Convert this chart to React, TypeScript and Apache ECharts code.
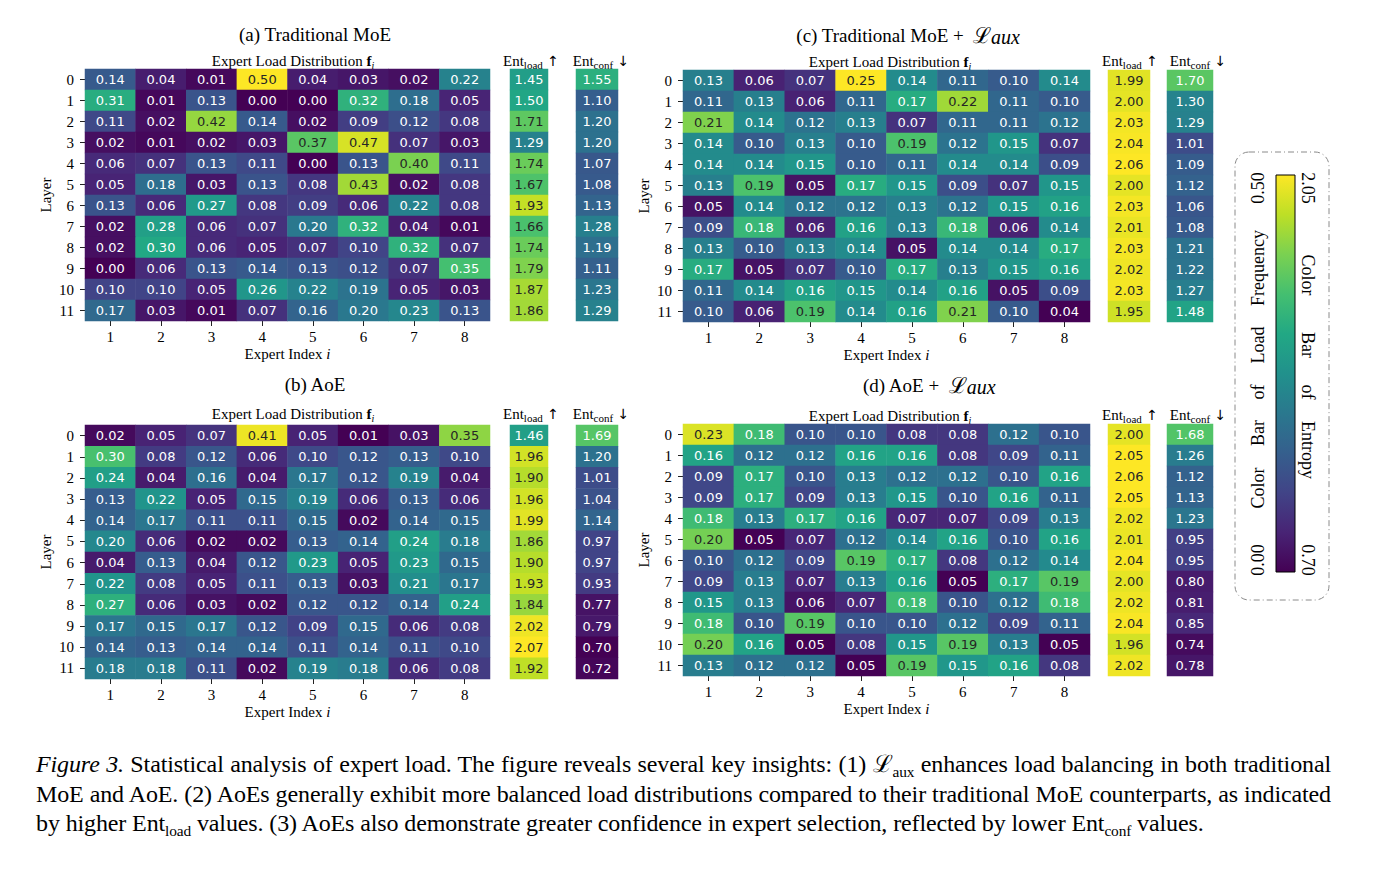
import React, { useEffect, useRef } from "react";
import * as echarts from "echarts";

const SERIF = "'Liberation Serif', 'Times New Roman', serif";
const SANS = "'DejaVu Sans', sans-serif";
const DARK = "#262626";

const VIRIDIS = [
  "#440154", "#482475", "#414487", "#355f8d", "#2a788e", "#21918c",
  "#22a884", "#44bf70", "#7ad151", "#bddf26", "#fde725",
];

const expertIndex = ["1", "2", "3", "4", "5", "6", "7", "8"];
const layerIndex = ["0", "1", "2", "3", "4", "5", "6", "7", "8", "9", "10", "11"];

// (a) Traditional MoE
const loadA = [
  [0.14, 0.04, 0.01, 0.50, 0.04, 0.03, 0.02, 0.22],
  [0.31, 0.01, 0.13, 0.00, 0.00, 0.32, 0.18, 0.05],
  [0.11, 0.02, 0.42, 0.14, 0.02, 0.09, 0.12, 0.08],
  [0.02, 0.01, 0.02, 0.03, 0.37, 0.47, 0.07, 0.03],
  [0.06, 0.07, 0.13, 0.11, 0.00, 0.13, 0.40, 0.11],
  [0.05, 0.18, 0.03, 0.13, 0.08, 0.43, 0.02, 0.08],
  [0.13, 0.06, 0.27, 0.08, 0.09, 0.06, 0.22, 0.08],
  [0.02, 0.28, 0.06, 0.07, 0.20, 0.32, 0.04, 0.01],
  [0.02, 0.30, 0.06, 0.05, 0.07, 0.10, 0.32, 0.07],
  [0.00, 0.06, 0.13, 0.14, 0.13, 0.12, 0.07, 0.35],
  [0.10, 0.10, 0.05, 0.26, 0.22, 0.19, 0.05, 0.03],
  [0.17, 0.03, 0.01, 0.07, 0.16, 0.20, 0.23, 0.13],
];
const entLoadA = [1.45, 1.50, 1.71, 1.29, 1.74, 1.67, 1.93, 1.66, 1.74, 1.79, 1.87, 1.86];
const entConfA = [1.55, 1.10, 1.20, 1.20, 1.07, 1.08, 1.13, 1.28, 1.19, 1.11, 1.23, 1.29];

// (c) Traditional MoE + L_aux
const loadC = [
  [0.13, 0.06, 0.07, 0.25, 0.14, 0.11, 0.10, 0.14],
  [0.11, 0.13, 0.06, 0.11, 0.17, 0.22, 0.11, 0.10],
  [0.21, 0.14, 0.12, 0.13, 0.07, 0.11, 0.11, 0.12],
  [0.14, 0.10, 0.13, 0.10, 0.19, 0.12, 0.15, 0.07],
  [0.14, 0.14, 0.15, 0.10, 0.11, 0.14, 0.14, 0.09],
  [0.13, 0.19, 0.05, 0.17, 0.15, 0.09, 0.07, 0.15],
  [0.05, 0.14, 0.12, 0.12, 0.13, 0.12, 0.15, 0.16],
  [0.09, 0.18, 0.06, 0.16, 0.13, 0.18, 0.06, 0.14],
  [0.13, 0.10, 0.13, 0.14, 0.05, 0.14, 0.14, 0.17],
  [0.17, 0.05, 0.07, 0.10, 0.17, 0.13, 0.15, 0.16],
  [0.11, 0.14, 0.16, 0.15, 0.14, 0.16, 0.05, 0.09],
  [0.10, 0.06, 0.19, 0.14, 0.16, 0.21, 0.10, 0.04],
];
const entLoadC = [1.99, 2.00, 2.03, 2.04, 2.06, 2.00, 2.03, 2.01, 2.03, 2.02, 2.03, 1.95];
const entConfC = [1.70, 1.30, 1.29, 1.01, 1.09, 1.12, 1.06, 1.08, 1.21, 1.22, 1.27, 1.48];

// (b) AoE
const loadB = [
  [0.02, 0.05, 0.07, 0.41, 0.05, 0.01, 0.03, 0.35],
  [0.30, 0.08, 0.12, 0.06, 0.10, 0.12, 0.13, 0.10],
  [0.24, 0.04, 0.16, 0.04, 0.17, 0.12, 0.19, 0.04],
  [0.13, 0.22, 0.05, 0.15, 0.19, 0.06, 0.13, 0.06],
  [0.14, 0.17, 0.11, 0.11, 0.15, 0.02, 0.14, 0.15],
  [0.20, 0.06, 0.02, 0.02, 0.13, 0.14, 0.24, 0.18],
  [0.04, 0.13, 0.04, 0.12, 0.23, 0.05, 0.23, 0.15],
  [0.22, 0.08, 0.05, 0.11, 0.13, 0.03, 0.21, 0.17],
  [0.27, 0.06, 0.03, 0.02, 0.12, 0.12, 0.14, 0.24],
  [0.17, 0.15, 0.17, 0.12, 0.09, 0.15, 0.06, 0.08],
  [0.14, 0.13, 0.14, 0.14, 0.11, 0.14, 0.11, 0.10],
  [0.18, 0.18, 0.11, 0.02, 0.19, 0.18, 0.06, 0.08],
];
const entLoadB = [1.46, 1.96, 1.90, 1.96, 1.99, 1.86, 1.90, 1.93, 1.84, 2.02, 2.07, 1.92];
const entConfB = [1.69, 1.20, 1.01, 1.04, 1.14, 0.97, 0.97, 0.93, 0.77, 0.79, 0.70, 0.72];

// (d) AoE + L_aux
const loadD = [
  [0.23, 0.18, 0.10, 0.10, 0.08, 0.08, 0.12, 0.10],
  [0.16, 0.12, 0.12, 0.16, 0.16, 0.08, 0.09, 0.11],
  [0.09, 0.17, 0.10, 0.13, 0.12, 0.12, 0.10, 0.16],
  [0.09, 0.17, 0.09, 0.13, 0.15, 0.10, 0.16, 0.11],
  [0.18, 0.13, 0.17, 0.16, 0.07, 0.07, 0.09, 0.13],
  [0.20, 0.05, 0.07, 0.12, 0.14, 0.16, 0.10, 0.16],
  [0.10, 0.12, 0.09, 0.19, 0.17, 0.08, 0.12, 0.14],
  [0.09, 0.13, 0.07, 0.13, 0.16, 0.05, 0.17, 0.19],
  [0.15, 0.13, 0.06, 0.07, 0.18, 0.10, 0.12, 0.18],
  [0.18, 0.10, 0.19, 0.10, 0.10, 0.12, 0.09, 0.11],
  [0.20, 0.16, 0.05, 0.08, 0.15, 0.19, 0.13, 0.05],
  [0.13, 0.12, 0.12, 0.05, 0.19, 0.15, 0.16, 0.08],
];
const entLoadD = [2.00, 2.05, 2.06, 2.05, 2.02, 2.01, 2.04, 2.00, 2.02, 2.04, 1.96, 2.02];
const entConfD = [1.68, 1.26, 1.12, 1.13, 1.23, 0.95, 0.95, 0.80, 0.81, 0.85, 0.74, 0.78];

const loadRangeA = [0, 0.5];
const loadRangeC = [0.04, 0.25];
const loadRangeB = [0.01, 0.42];
const loadRangeD = [0.05, 0.24];
const entRange = [0.7, 2.05];
const loadBarTicks = ["0.00", "0.50"];
const entBarTicks = ["0.70", "2.05"];

const panels = [
  { load: loadA, entLoad: entLoadA, entConf: entConfA, range: loadRangeA },
  { load: loadC, entLoad: entLoadC, entConf: entConfC, range: loadRangeC },
  { load: loadB, entLoad: entLoadB, entConf: entConfB, range: loadRangeB },
  { load: loadD, entLoad: entLoadD, entConf: entConfD, range: loadRangeD },
];

const layouts = [
  { hm: { left: 85, top: 69, width: 405, height: 252 }, el: { left: 510, width: 38 }, ec: { left: 576, width: 42 },
    title: { x: 315, y: 34, text: "{n|(a) Traditional MoE}" }, sub: { x: 293, y: 61 }, hdr: { l: 531, c: 601, y: 61 } },
  { hm: { left: 683, top: 70, width: 407, height: 252 }, el: { left: 1108, width: 42 }, ec: { left: 1167, width: 46 },
    title: { x: 908, y: 35, text: "{n|(c) Traditional MoE +}{L|ℒ}{s|aux}" }, sub: { x: 890, y: 62 }, hdr: { l: 1130, c: 1198, y: 61 } },
  { hm: { left: 85, top: 425, width: 405, height: 254 }, el: { left: 510, width: 38 }, ec: { left: 576, width: 42 },
    title: { x: 315, y: 384, text: "{n|(b) AoE}" }, sub: { x: 293, y: 414 }, hdr: { l: 531, c: 601, y: 414 } },
  { hm: { left: 683, top: 424, width: 407, height: 252 }, el: { left: 1108, width: 42 }, ec: { left: 1167, width: 46 },
    title: { x: 929, y: 385, text: "{n|(d) AoE +}{L|ℒ}{s|aux}" }, sub: { x: 890, y: 416 }, hdr: { l: 1130, c: 1198, y: 415 } },
];

function richText(x: number, y: number, text: string, rich: any, extra: any = {}) {
  return {
    type: "text",
    x,
    y,
    ...extra,
    style: { text, x: 0, y: 0, align: "center", verticalAlign: "middle", textAlign: "center", textVerticalAlign: "middle", rich, fill: "#000" },
  };
}

const titleRich = {
  n: { fontFamily: SERIF, fontSize: 19, color: "#000", lineHeight: 24, verticalAlign: "middle" },
  L: { fontFamily: "'DejaVu Serif', serif", fontSize: 22, color: "#000", lineHeight: 24, verticalAlign: "middle", padding: [0, 0, 0, 9] },
  s: { fontFamily: SERIF, fontSize: 20, fontStyle: "italic", color: "#000", lineHeight: 20, verticalAlign: "bottom" },
};
const subRich = {
  n: { fontFamily: SERIF, fontSize: 15, color: "#000", lineHeight: 18, verticalAlign: "middle" },
  b: { fontFamily: SERIF, fontSize: 15, fontWeight: "bold", color: "#000", lineHeight: 18, verticalAlign: "middle" },
  s: { fontFamily: SERIF, fontSize: 10, fontStyle: "italic", color: "#000", lineHeight: 10, verticalAlign: "bottom" },
};
const hdrRich = {
  n: { fontFamily: SERIF, fontSize: 15, color: "#000", lineHeight: 18, verticalAlign: "middle" },
  s: { fontFamily: SERIF, fontSize: 11, color: "#000", lineHeight: 11, verticalAlign: "bottom" },
  a: { fontFamily: "'DejaVu Sans', sans-serif", fontSize: 14, color: "#000", lineHeight: 18, verticalAlign: "middle" },
};

function buildOption() {
  const grid: any[] = [];
  const xAxis: any[] = [];
  const yAxis: any[] = [];
  const series: any[] = [];
  const visualMap: any[] = [];
  const graphic: any[] = [];

  const axisFont = { fontFamily: SERIF, fontSize: 15, color: "#000" };

  const cellLabel = {
    show: true,
    fontFamily: SANS,
    fontSize: 13,
    formatter: (p: any) => Number(p.value[3]).toFixed(2),
  };

  const addColumn = (values: number[], gi: number, thr: number) => {
    const [lo, hi] = entRange;
    const data = values.map((v, r) => {
      const cv = Math.min(hi, Math.max(lo, v));
      const t = (cv - lo) / (hi - lo);
      return { value: [0, r, cv, v], label: { color: t > thr ? DARK : "#fff" } };
    });
    series.push({
      type: "heatmap", xAxisIndex: gi, yAxisIndex: gi, data, label: cellLabel,
      itemStyle: { borderWidth: 0 }, emphasis: { disabled: true },
    });
    visualMap.push({
      type: "continuous", show: false, seriesIndex: series.length - 1, dimension: 2,
      min: lo, max: hi, inRange: { color: VIRIDIS },
    });
  };

  panels.forEach((p, i) => {
    const L = layouts[i];
    const g = i * 3;
    grid.push({ left: L.hm.left, top: L.hm.top, width: L.hm.width, height: L.hm.height });
    grid.push({ left: L.el.left, top: L.hm.top, width: L.el.width, height: L.hm.height });
    grid.push({ left: L.ec.left, top: L.hm.top, width: L.ec.width, height: L.hm.height });

    xAxis.push({
      type: "category", gridIndex: g, data: expertIndex, position: "bottom",
      axisLine: { show: false },
      axisTick: { show: true, length: 5, alignWithLabel: true, interval: 0, lineStyle: { color: "#222", width: 1 } },
      axisLabel: { ...axisFont, margin: 8, interval: 0 },
      splitLine: { show: false },
      name: "Expert Index {it|i}", nameLocation: "middle", nameGap: 25,
      nameTextStyle: { ...axisFont, rich: { it: { ...axisFont, fontStyle: "italic" } } },
    });
    yAxis.push({
      type: "category", gridIndex: g, data: layerIndex, inverse: true,
      axisLine: { show: false },
      axisTick: { show: true, length: 5, alignWithLabel: true, interval: 0, lineStyle: { color: "#222", width: 1 } },
      axisLabel: { ...axisFont, margin: 11, interval: 0 },
      splitLine: { show: false },
      name: "Layer", nameLocation: "middle", nameRotate: 90, nameGap: 32,
      nameTextStyle: axisFont,
    });
    for (let k = 1; k <= 2; k++) {
      xAxis.push({ type: "category", gridIndex: g + k, data: [""], show: false });
      yAxis.push({ type: "category", gridIndex: g + k, data: layerIndex, inverse: true, show: false });
    }

    const [lo, hi] = p.range;
    const hmData: any[] = [];
    p.load.forEach((row, r) =>
      row.forEach((v, c) => {
        const cv = Math.min(hi, Math.max(lo, v));
        const t = (cv - lo) / (hi - lo);
        hmData.push({ value: [c, r, cv, v], label: { color: t > 0.71 ? DARK : "#fff" } });
      })
    );
    series.push({
      type: "heatmap", xAxisIndex: g, yAxisIndex: g, data: hmData, label: cellLabel,
      itemStyle: { borderWidth: 0 }, emphasis: { disabled: true },
    });
    visualMap.push({
      type: "continuous", show: false, seriesIndex: series.length - 1, dimension: 2,
      min: lo, max: hi, inRange: { color: VIRIDIS },
    });
    addColumn(p.entLoad, g + 1, 0.70);
    addColumn(p.entConf, g + 2, 0.76);

    graphic.push(richText(L.title.x, L.title.y, L.title.text, titleRich));
    graphic.push(richText(L.sub.x, L.sub.y, "{n|Expert Load Distribution }{b|f}{s|i}", subRich));
    graphic.push(richText(L.hdr.l, L.hdr.y, "{n|Ent}{s|load}{a| ↑}", hdrRich));
    graphic.push(richText(L.hdr.c, L.hdr.y, "{n|Ent}{s|conf}{a| ↓}", hdrRich));
  });

  // colour bar legend (gradient: yellow at top, purple at bottom)
  const n = VIRIDIS.length;
  const stops = VIRIDIS.map((_, k) => ({ offset: k / (n - 1), color: VIRIDIS[n - 1 - k] }));
  graphic.push({
    type: "rect",
    shape: { x: 1235, y: 152, width: 94, height: 448, r: 14 },
    style: { fill: "none", stroke: "#8a8a8a", lineWidth: 1, lineDash: [6, 3, 1, 3] },
  });
  graphic.push({
    type: "rect",
    shape: { x: 1276, y: 175, width: 19, height: 397 },
    style: {
      fill: { type: "linear", x: 0, y: 0, x2: 0, y2: 1, colorStops: stops, global: false },
      stroke: "#000", lineWidth: 1,
    },
  });
  const barFont = { fontFamily: SERIF, fontSize: 18, color: "#000" };
  const leftWords: [string, number][] = [
    [loadBarTicks[0], 560], ["Color", 488], ["Bar", 433], ["of", 392], ["Load", 345], ["Frequency", 268], [loadBarTicks[1], 188],
  ];
  leftWords.forEach(([w, y]) =>
    graphic.push(richText(1258, y, `{t|${w}}`, { t: barFont }, { rotation: Math.PI / 2 }))
  );
  const rightWords: [string, number][] = [
    [entBarTicks[1], 188], ["Color", 275], ["Bar", 345], ["of", 392], ["Entropy", 450], [entBarTicks[0], 560],
  ];
  rightWords.forEach(([w, y]) =>
    graphic.push(richText(1308, y, `{t|${w}}`, { t: barFont }, { rotation: -Math.PI / 2 }))
  );

  return {
    animation: false,
    backgroundColor: "#fff",
    grid,
    xAxis,
    yAxis,
    visualMap,
    series,
    graphic,
  };
}

const subStyle: React.CSSProperties = { fontSize: "0.64em", verticalAlign: "-0.3em", lineHeight: 0 };

export default function App() {
  const ref = useRef<HTMLDivElement>(null);
  useEffect(() => {
    const chart = echarts.init(ref.current!, null, { renderer: "svg" });
    chart.setOption(buildOption() as any);
    return () => chart.dispose();
  }, []);
  const justify: React.CSSProperties = {
    textAlign: "justify", textAlignLast: "justify", whiteSpace: "nowrap", letterSpacing: "-0.12px",
  };
  return (
    <div style={{ position: "fixed", left: 0, top: 0, width: 1382, height: 878, background: "#fff" }}>
      <div ref={ref} style={{ position: "absolute", left: 0, top: 0, width: 1382, height: 878 }} />
      <div
        style={{
          position: "absolute", left: 36, top: 750, width: 1295,
          fontFamily: SERIF, fontSize: 24, lineHeight: "29.5px", color: "#000",
        }}
      >
        <div style={justify}>
          <i>Figure 3.</i> Statistical analysis of expert load. The figure reveals several key insights: (1) ℒ
          <sub style={subStyle}>aux</sub> enhances load balancing in both traditional
        </div>
        <div style={justify}>
          MoE and AoE. (2) AoEs generally exhibit more balanced load distributions compared to their traditional MoE counterparts, as indicated
        </div>
        <div style={{ whiteSpace: "nowrap", letterSpacing: "-0.12px" }}>
          by higher Ent<sub style={subStyle}>load</sub> values. (3) AoEs also demonstrate greater confidence in expert selection, reflected by lower Ent
          <sub style={subStyle}>conf</sub> values.
        </div>
      </div>
    </div>
  );
}
